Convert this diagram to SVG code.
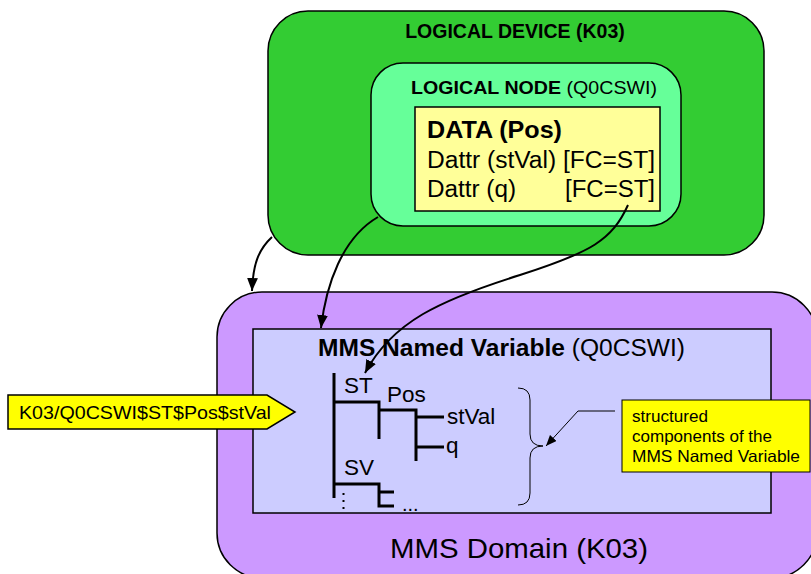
<svg xmlns="http://www.w3.org/2000/svg" width="811" height="574" viewBox="0 0 811 574">
  <defs>
    <style>
      text { font-family: "Liberation Sans", Arial, sans-serif; fill: #000; }
      .b { font-weight: bold; }
      .box { stroke: #000; stroke-width: 1.5; }
      .conn { fill: none; stroke: #000; stroke-width: 2; }
      .thin { fill: none; stroke: #000; stroke-width: 1; }
      .tree { fill: none; stroke: #000; stroke-width: 3; }
    </style>
    <marker id="arr" viewBox="0 0 12 10" refX="12" refY="5" markerWidth="13" markerHeight="11" markerUnits="userSpaceOnUse" orient="auto">
      <path d="M0,0 L12,5 L0,10 z" fill="#000"/>
    </marker>
    <marker id="arrS" viewBox="0 0 12 10" refX="12" refY="5" markerWidth="11" markerHeight="9" markerUnits="userSpaceOnUse" orient="auto">
      <path d="M0,0 L12,5 L0,10 z" fill="#000"/>
    </marker>
  </defs>

  <g id="logical-device">
    <rect class="box" x="268" y="11" width="496" height="244" rx="40" fill="#33CC33"/>
    <text class="b" x="515" y="38" font-size="19.5" text-anchor="middle">LOGICAL DEVICE (K03)</text>
  </g>

  <g id="logical-node">
    <rect class="box" x="371" y="63" width="310" height="163" rx="32" fill="#66FF99"/>
    <text x="411" y="94" font-size="19" textLength="246" lengthAdjust="spacingAndGlyphs"><tspan class="b">LOGICAL NODE</tspan> (Q0CSWI)</text>
  </g>

  <g id="data">
    <rect class="box" x="415" y="107" width="245" height="104" fill="#FFFF99"/>
    <text class="b" x="427" y="138" font-size="23" textLength="135" lengthAdjust="spacingAndGlyphs">DATA (Pos)</text>
    <text x="427" y="168" font-size="23" textLength="228" lengthAdjust="spacingAndGlyphs">Dattr (stVal) [FC=ST]</text>
    <text x="427" y="197" font-size="23" textLength="89" lengthAdjust="spacingAndGlyphs">Dattr (q)</text>
    <text x="565" y="197" font-size="23" textLength="90" lengthAdjust="spacingAndGlyphs">[FC=ST]</text>
  </g>

  <g id="mms-domain">
    <rect class="box" x="217" y="292" width="600" height="286" rx="45" fill="#CC99FF"/>
    <text x="390" y="558" font-size="28.5" textLength="258" lengthAdjust="spacingAndGlyphs">MMS Domain (K03)</text>
  </g>

  <g id="mms-named-variable">
    <rect class="box" x="253" y="329" width="518" height="184" fill="#CCCCFF"/>
    <text x="318" y="356" font-size="23" textLength="367" lengthAdjust="spacingAndGlyphs"><tspan class="b">MMS Named Variable</tspan> (Q0CSWI)</text>
    <g id="tree">
      <path class="tree" d="M334,373 V498 M334,402 H379 V439 M379,410 H416 V461 M416,417 H444 M416,447 H444 M334,484 H379 V506 H394 M379,492 H394"/>
      <line x1="343.5" y1="493" x2="343.5" y2="511" stroke="#000" stroke-width="2" stroke-dasharray="2 5"/>
      <text x="344" y="393" font-size="22.5">ST</text>
      <text x="387" y="402" font-size="22.5">Pos</text>
      <text x="447" y="424" font-size="22.5">stVal</text>
      <text x="446" y="453" font-size="22.5">q</text>
      <text x="344" y="475" font-size="22.5">SV</text>
      <text x="402" y="511" font-size="20">...</text>
    </g>
    <path class="thin" d="M518,388 Q530,388 530,400 L530,434 Q530,446 543,446 Q530,446 530,458 L530,493 Q530,505 518,505" stroke-width="1.3"/>
  </g>

  <g id="address-label">
    <polygon class="box" points="8,395 267,395 295,412 267,429 8,429" fill="#FFFF00" stroke-width="1"/>
    <text x="19" y="419" font-size="18.5" textLength="252" lengthAdjust="spacingAndGlyphs">K03/Q0CSWI$ST$Pos$stVal</text>
  </g>

  <g id="callout">
    <rect x="622" y="400" width="188" height="72" fill="#FFFF00" stroke="#000" stroke-width="1"/>
    <text x="632" y="422" font-size="16.5" textLength="76" lengthAdjust="spacingAndGlyphs">structured</text>
    <text x="632" y="442" font-size="16.5" textLength="140" lengthAdjust="spacingAndGlyphs">components of the</text>
    <text x="632" y="462" font-size="16.5" textLength="168" lengthAdjust="spacingAndGlyphs">MMS Named Variable</text>
  </g>

  <g id="connectors">
    <path class="conn" d="M272,237 C258,250 253,265 252,291" marker-end="url(#arr)"/>
    <path class="conn" d="M378,217 C342,238 326,285 321,328" marker-end="url(#arr)"/>
    <path class="conn" d="M628,205 C612,240 592,252 520,275 C440,300 392,322 365,373" marker-end="url(#arr)"/>
    <path class="thin" d="M615,411 H578 L546,446" marker-end="url(#arrS)"/>
  </g>
</svg>
